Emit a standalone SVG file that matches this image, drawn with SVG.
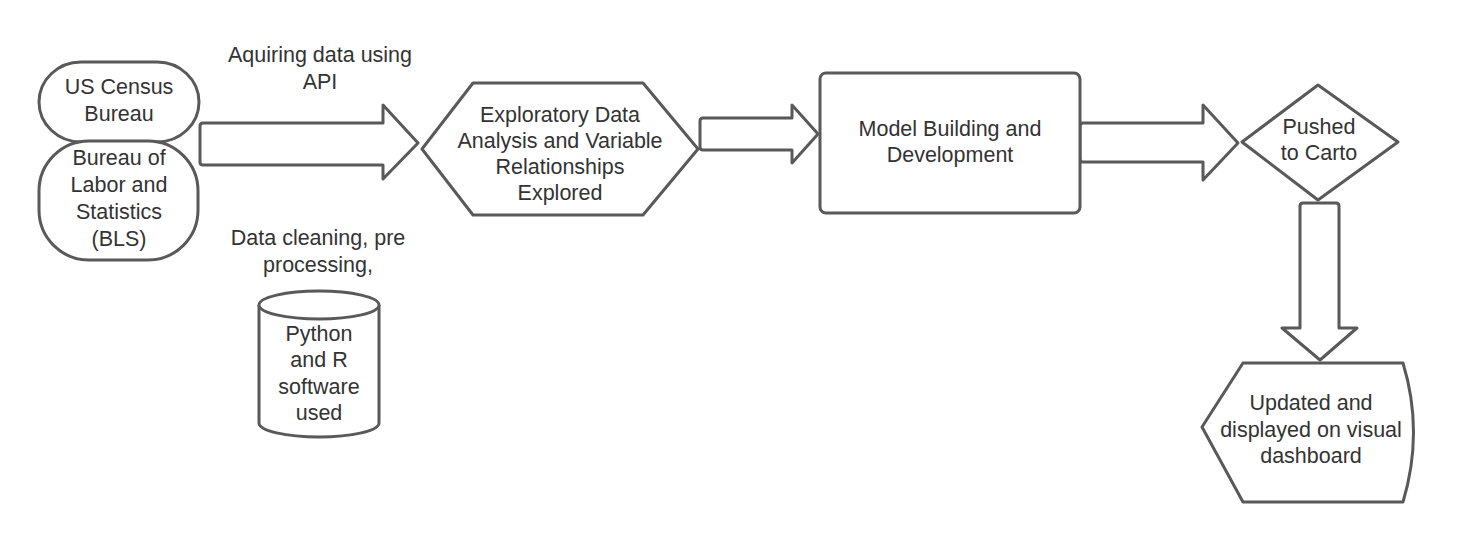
<svg xmlns="http://www.w3.org/2000/svg" width="1460" height="543" viewBox="0 0 1460 543">
<style>
.s{fill:#fff;stroke:#595959;stroke-width:3;stroke-linejoin:round}
text{font-family:"Liberation Sans",Arial,sans-serif;font-size:21.5px;fill:#333;text-anchor:middle}
</style>
<rect width="1460" height="543" fill="#fff"/>
<g id="connectors">
<path class="s" d="M203,123 H383 V105 L418,143 L383,179 V165 H203 Q200,165 200,162 V126 Q200,123 203,123 Z"/>
<path class="s" d="M703,118 H792 V105 L818,134 L792,163 V150 H703 Q700,150 700,147 V121 Q700,118 703,118 Z"/>
<path class="s" d="M1083,123 H1203 V105 L1238,143 L1203,180 V162 H1083 Q1080,162 1080,159 V126 Q1080,123 1083,123 Z"/>
<path class="s" d="M1303,203 H1336 Q1339,203 1339,206 V328 H1357 L1320,360 L1282,328 H1300 V206 Q1300,203 1303,203 Z"/>
</g>
<g id="label-api"><text x="320" y="62">Aquiring data using</text><text x="320" y="89">API</text></g>
<g id="label-cleaning"><text x="318" y="245">Data cleaning, pre</text><text x="318" y="272">processing,</text></g>
<g id="census">
<rect class="s" x="39" y="62" width="160" height="80" rx="42" ry="40"/>
<text x="119" y="94">US Census</text><text x="119" y="121">Bureau</text>
</g>
<g id="bls">
<rect class="s" x="39" y="141" width="159" height="119" rx="50" ry="50"/>
<text x="119" y="165">Bureau of</text><text x="119" y="192">Labor and</text><text x="119" y="219">Statistics</text><text x="119" y="246">(BLS)</text>
</g>
<g id="software">
<path class="s" d="M259,305 V423 A60,14 0 0 0 379,423 V305 A60,14 0 0 0 259,305 Z"/>
<path class="s" d="M259,305 A60,14 0 0 0 379,305" fill="none"/>
<text x="319" y="341">Python</text><text x="319" y="367">and R</text><text x="319" y="394">software</text><text x="319" y="420">used</text>
</g>
<g id="eda">
<path class="s" d="M422,149 L473,83 H643 L698,149 L643,215 H473 Z"/>
<text x="560" y="122">Exploratory Data</text><text x="560" y="148">Analysis and Variable</text><text x="560" y="174">Relationships</text><text x="560" y="200">Explored</text>
</g>
<g id="model">
<rect class="s" x="820" y="73" width="260" height="140" rx="6"/>
<text x="950" y="136">Model Building and</text><text x="950" y="162">Development</text>
</g>
<g id="carto">
<path class="s" d="M1242,142 L1318,85 L1398,142 L1318,200 Z"/>
<text x="1319" y="134">Pushed</text><text x="1319" y="160">to Carto</text>
</g>
<g id="dashboard">
<path class="s" d="M1202,427 L1243,363 H1403 Q1424,432 1403,502 H1243 Z"/>
<text x="1311" y="410">Updated and</text><text x="1311" y="437">displayed on visual</text><text x="1311" y="463">dashboard</text>
</g>
</svg>
